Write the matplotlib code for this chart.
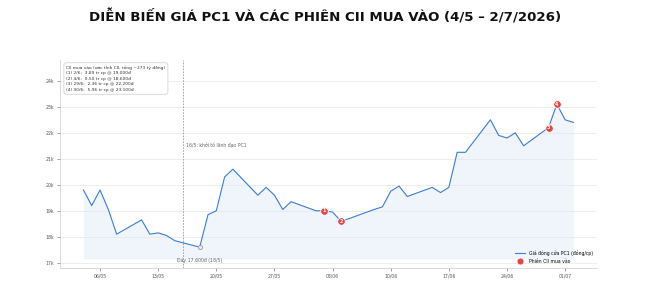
import numpy as np
import pandas as pd
import matplotlib
matplotlib.use("Agg")
import matplotlib.pyplot as plt
import matplotlib.dates as mdates
from matplotlib.lines import Line2D

# gia dong cua PC1 (nghin dong), phien giao dich
days = ["2026-05-04", "2026-05-05", "2026-05-06", "2026-05-07", "2026-05-08",
        "2026-05-11", "2026-05-12", "2026-05-13", "2026-05-14", "2026-05-15",
        "2026-05-18", "2026-05-19", "2026-05-20", "2026-05-21", "2026-05-22",
        "2026-05-25", "2026-05-26", "2026-05-27", "2026-05-28", "2026-05-29",
        "2026-06-01", "2026-06-02", "2026-06-03", "2026-06-04", "2026-06-05",
        "2026-06-08", "2026-06-09", "2026-06-10", "2026-06-11", "2026-06-12",
        "2026-06-15", "2026-06-16", "2026-06-17", "2026-06-18", "2026-06-19",
        "2026-06-22", "2026-06-23", "2026-06-24", "2026-06-25", "2026-06-26",
        "2026-06-29", "2026-06-30", "2026-07-01", "2026-07-02"]
close_k = [19.8, 19.2, 19.8, 19.05, 18.1,
           18.65, 18.1, 18.15, 18.05, 17.85,
           17.6, 18.85, 19.0, 20.3, 20.6,
           19.6, 19.9, 19.6, 19.05, 19.35,
           19.0, 19.0, 18.95, 18.6, 18.7,
           19.05, 19.15, 19.75, 19.95, 19.55,
           19.9, 19.7, 19.9, 21.25, 21.25,
           22.5, 21.9, 21.8, 22.0, 21.5,
           22.2, 23.1, 22.5, 22.4]

# phien CII mua vao
buy_days = ["2026-06-02", "2026-06-04", "2026-06-29", "2026-06-30"]
buy_price_k = [19.0, 18.6, 22.2, 23.1]
buy_labels = ["1", "2", "3", "4"]
info_lines = ["CII mua vào (ước tính CII, tổng ~273 tỷ đồng)",
              "(1) 2/6:  3,89 tr cp @ 19.000đ",
              "(2) 4/6:  0,50 tr cp @ 18.600đ",
              "(3) 29/6:  2,36 tr cp @ 22.200đ",
              "(4) 30/6:  5,96 tr cp @ 23.100đ"]

event_day = "2026-05-16"
event_text = "16/5: khởi tố lãnh đạo PC1"
bottom_day = "2026-05-18"
bottom_text = "Đáy 17.600đ (18/5)"

x = pd.to_datetime(days)
bx = pd.to_datetime(buy_days)

blue = "#3a7bd5"
red = "#e04848"
gray = "#666666"

fig = plt.figure(figsize=(6.51, 2.90), dpi=100)
ax = fig.add_axes([0.092, 0.076, 0.825, 0.717])

fig.text(0.5, 0.941, "DIỄN BIẾN GIÁ PC1 VÀ CÁC PHIÊN CII MUA VÀO (4/5 – 2/7/2026)",
         ha="center", va="center", fontsize=9.6, fontweight="bold", color="#111111")

ax.fill_between(x, close_k, min(close_k) - 0.45, color="#dce9f7", alpha=0.45, lw=0)
ax.plot(x, close_k, color=blue, lw=0.8, zorder=3)

# diem day
bidx = days.index(bottom_day)
ax.plot(x[bidx], close_k[bidx], "o", ms=3, mfc="#eeeeee", mec="#999999", mew=0.6, zorder=4)
ax.text(x[bidx], 17.08, bottom_text, ha="center", va="center", fontsize=3.3, color=gray)

# su kien
ev = pd.Timestamp(event_day)
ax.axvline(ev, color="#999999", lw=0.6, ls=(0, (2, 1.5)), zorder=1)
ax.text(ev + pd.Timedelta(hours=8), 21.53, event_text, ha="left", va="center",
        fontsize=3.3, color=gray)

# phien mua
ax.scatter(bx, buy_price_k, s=30, color=red, edgecolor="white", linewidth=0.6, zorder=5)
for d, p, lab in zip(bx, buy_price_k, buy_labels):
    ax.text(d, p, lab, ha="center", va="center", fontsize=3.4, color="white",
            fontweight="bold", zorder=6)

ax.text(0.012, 0.975, "\n".join(info_lines), transform=ax.transAxes, ha="left", va="top",
        fontsize=3.2, color="#333333", linespacing=1.5,
        bbox=dict(boxstyle="round,pad=0.55", fc="white", ec="#cccccc", lw=0.5))

ax.set_ylim(16.8, 24.8)
ax.set_yticks(np.arange(17, 25, 1))
ax.set_yticklabels([f"{v}k" for v in range(17, 25)])
ax.margins(x=0.048)
ax.xaxis.set_major_locator(mdates.WeekdayLocator(byweekday=mdates.WE, interval=1))
ax.xaxis.set_major_formatter(mdates.DateFormatter("%d/%m"))
ax.tick_params(labelsize=3.3, colors="#555555", length=2, width=0.4, pad=2)
ax.grid(axis="y", color="#e6e6e6", lw=0.5)
ax.set_axisbelow(True)
for s in ["top", "right"]:
    ax.spines[s].set_visible(False)
for s in ["left", "bottom"]:
    ax.spines[s].set_color("#cccccc")
    ax.spines[s].set_linewidth(0.5)

handles = [Line2D([0], [0], color=blue, lw=0.8),
           Line2D([0], [0], marker="o", ls="", ms=5, mfc=red, mec="white", mew=0.5)]
ax.legend(handles, ["Giá đóng cửa PC1 (đồng/cp)", "Phiên CII mua vào"], loc="lower right",
          bbox_to_anchor=(1.0, 0.0), frameon=False, fontsize=3.3, handlelength=2.2,
          labelspacing=0.6)

fig.savefig("out.png", dpi=100)
